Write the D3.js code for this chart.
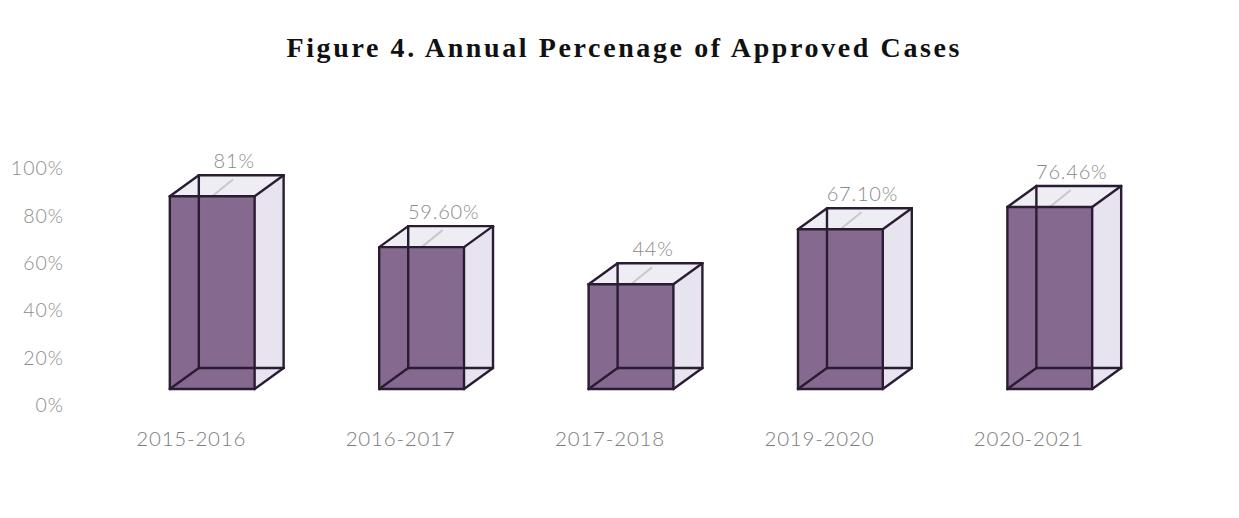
<!DOCTYPE html>
<html>
<head>
<meta charset="utf-8">
<script src="https://cdn.jsdelivr.net/npm/d3@7"></script>
<style>
  html, body { margin: 0; padding: 0; background: #ffffff; }
  svg { display: block; }
</style>
</head>
<body>
<svg id="chart" width="1239" height="518"></svg>
<script>
// Approved cases per year, as a share of all cases
const years = ["2015-2016", "2016-2017", "2017-2018", "2019-2020", "2020-2021"];
const approved = [0.81, 0.596, 0.44, 0.671, 0.7646];
const valueLabels = ["81%", "59.60%", "44%", "67.10%", "76.46%"];
const tickValues = [0, 0.2, 0.4, 0.6, 0.8, 1.0];

const svg = d3.select("#chart");

// Depth of the box projection
const depthX = 29, depthY = -21;

const x = d3.scaleBand()
  .domain(years)
  .range([107, 1155])
  .paddingInner(0.595)
  .paddingOuter(0.3);

// Front face of each box
const y = d3.scaleLinear().domain([0, 1]).range([389, 151]);
// Value axis labels sit on the chart floor, below the front faces
const yAxisScale = d3.scaleLinear().domain([0, 1]).range([405, 168]);

const labelFont = "Lato, 'Open Sans', sans-serif";

// Title
svg.append("text")
  .attr("x", 623)
  .attr("y", 57)
  .attr("text-anchor", "middle")
  .attr("font-family", "'Liberation Serif', 'Times New Roman', serif")
  .attr("font-weight", "bold")
  .attr("font-size", 28)
  .attr("textLength", 673)
  .attr("lengthAdjust", "spacing")
  .attr("fill", "#111111")
  .text("Figure 4. Annual Percenage of Approved Cases");

// Value axis
const axis = d3.axisLeft(yAxisScale)
  .tickValues(tickValues)
  .tickSize(0)
  .tickPadding(0)
  .tickFormat(d3.format(".0%"));

const axisG = svg.append("g")
  .attr("transform", "translate(64,0)")
  .call(axis);
axisG.select(".domain").remove();
axisG.selectAll("text")
  .attr("font-family", labelFont)
  .attr("font-weight", 300)
  .attr("font-size", 19.5)
  .attr("letter-spacing", 1)
  .attr("fill", "#8c8c8c")
  .attr("dy", "0.34em");

// Category labels
svg.append("g")
  .selectAll("text")
  .data(years)
  .join("text")
  .attr("x", d => x(d) + x.bandwidth() / 2 - 21)
  .attr("y", 446)
  .attr("text-anchor", "middle")
  .attr("font-family", labelFont)
  .attr("font-weight", 300)
  .attr("font-size", 20.5)
  .attr("letter-spacing", 0.8)
  .attr("fill", "#7c7c7c")
  .text(d => d);

// Boxes
const stroke = "#2a1c33";
const bars = svg.append("g")
  .selectAll("g")
  .data(years.map((yr, i) => ({ yr, v: approved[i], label: valueLabels[i] })))
  .join("g");

bars.each(function(d) {
  const g = d3.select(this);
  const x0 = x(d.yr), x1 = x0 + x.bandwidth();
  const yt = y(d.v), yb = y(0);
  const bx0 = x0 + depthX, bx1 = x1 + depthX;
  const byt = yt + depthY, byb = yb + depthY;

  // right side face
  g.append("path")
    .attr("d", `M${x1},${yt}L${bx1},${byt}L${bx1},${byb}L${x1},${yb}Z`)
    .attr("fill", "#e7e4ef");
  // top face
  g.append("path")
    .attr("d", `M${x0},${yt}L${bx0},${byt}L${bx1},${byt}L${x1},${yt}Z`)
    .attr("fill", "#efedf4");
  // front face
  g.append("rect")
    .attr("x", x0).attr("y", yt)
    .attr("width", x1 - x0).attr("height", yb - yt)
    .attr("fill", "#86698f");

  // leader from the value label to the top of the front face
  const cx = (x0 + x1) / 2;
  g.append("line")
    .attr("x1", cx).attr("y1", yt)
    .attr("x2", cx + 21).attr("y2", yt - 17)
    .attr("stroke", "#c8c8c8")
    .attr("stroke-width", 2);

  // wireframe edges
  const edges = [
    [x0, yt, x1, yt], [x1, yt, x1, yb], [x1, yb, x0, yb], [x0, yb, x0, yt],
    [bx0, byt, bx1, byt], [bx1, byt, bx1, byb], [bx1, byb, bx0, byb], [bx0, byb, bx0, byt],
    [x0, yt, bx0, byt], [x1, yt, bx1, byt], [x1, yb, bx1, byb], [x0, yb, bx0, byb]
  ];
  g.selectAll("line.edge")
    .data(edges)
    .join("line")
    .attr("class", "edge")
    .attr("x1", e => e[0]).attr("y1", e => e[1])
    .attr("x2", e => e[2]).attr("y2", e => e[3])
    .attr("stroke", stroke)
    .attr("stroke-width", 2.4)
    .attr("stroke-linecap", "round");

  // value label
  g.append("text")
    .attr("x", cx + 22)
    .attr("y", byt - 7)
    .attr("text-anchor", "middle")
    .attr("font-family", labelFont)
    .attr("font-weight", 300)
    .attr("font-size", 20)
    .attr("letter-spacing", 0.8)
    .attr("fill", "#8a8a8a")
    .text(d.label);
});
</script>
</body>
</html>
